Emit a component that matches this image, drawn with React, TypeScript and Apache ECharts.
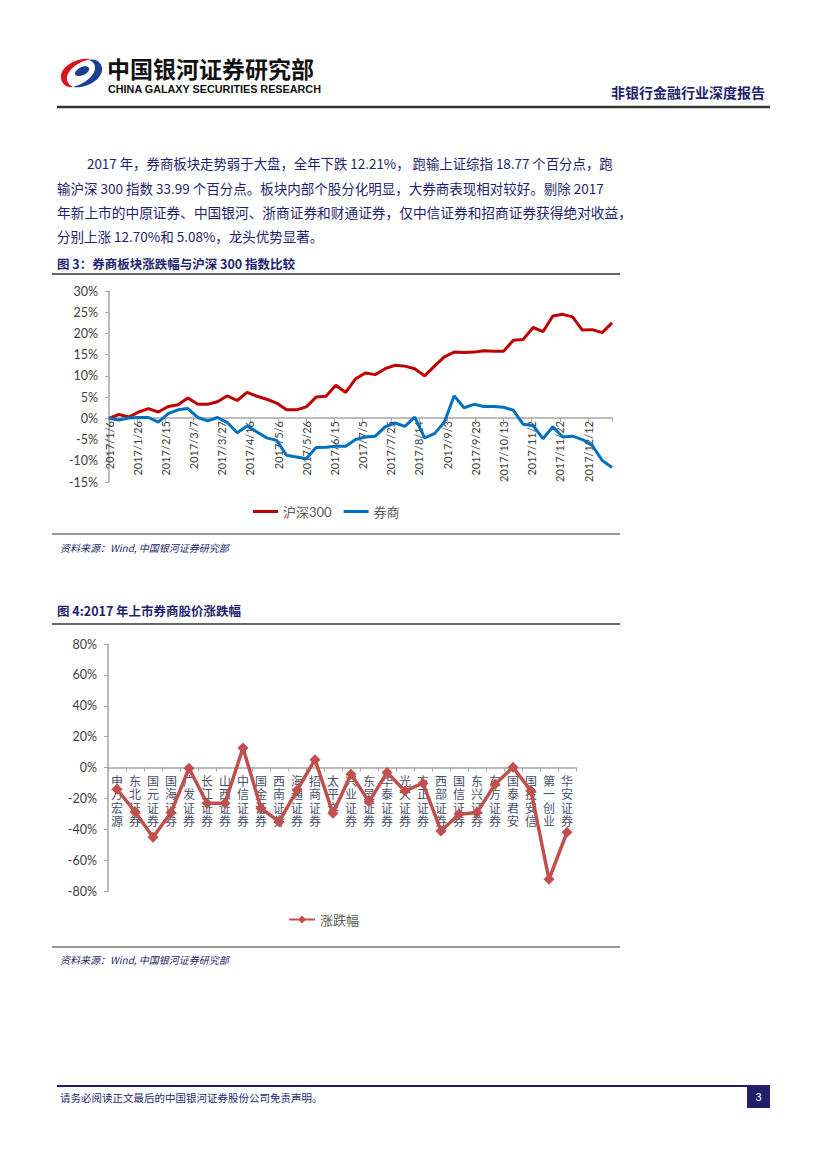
import React, { useEffect, useRef } from 'react';
import * as echarts from 'echarts';

// ---------- Figure 3 data (weekly, from 2017/1/6) ----------
const fig3TickLabels = [
  '2017/1/6', '2017/1/26', '2017/2/15', '2017/3/7', '2017/3/27', '2017/4/16',
  '2017/5/6', '2017/5/26', '2017/6/15', '2017/7/5', '2017/7/25', '2017/8/14',
  '2017/9/3', '2017/9/23', '2017/10/13', '2017/11/2', '2017/11/22', '2017/12/12',
];
const hs300 = [
  0, 0.9, 0.3, 1.5, 2.3, 1.5, 2.8, 3.2, 4.8, 3.3, 3.3, 3.9, 5.3, 4.2, 6.1, 5.2,
  4.5, 3.6, 2.0, 2.0, 2.7, 5.0, 5.2, 7.8, 6.1, 9.3, 10.7, 10.3, 11.7, 12.5, 12.3, 11.7,
  10.0, 12.3, 14.5, 15.6, 15.5, 15.6, 15.9, 15.8, 15.8, 18.4, 18.6, 21.4, 20.4, 24.1, 24.5, 23.9,
  20.8, 20.9, 20.2, 22.5,
];
const brokers = [
  0, -0.4, 0.1, 0.2, 0.2, -0.9, 1.1, 2.0, 2.3, 0.2, -0.6, 0.2, -1.0, -3.4, -1.8, -3.2,
  -4.6, -5.2, -8.7, -9.1, -9.5, -6.9, -6.8, -6.6, -6.6, -5.0, -4.4, -4.2, -2.0, -1.1, -1.9, 0.3,
  -4.6, -3.6, -0.9, 5.3, 2.5, 3.3, 2.8, 2.8, 2.6, 1.9, -1.4, -1.7, -4.8, -2.0, -4.4, -4.2,
  -5.0, -6.4, -9.9, -11.6,
];
// day offset of each weekly observation from 2017/1/6
const weekDays = hs300.map((_, i) => i * 7);

// ---------- Figure 4 data ----------
const fig4Names = [
  '申万宏源', '东北证券', '国元证券', '国海证券', '广发证券', '长江证券', '山西证券',
  '中信证券', '国金证券', '西南证券', '海通证券', '招商证券', '太平洋', '兴业证券',
  '东吴证券', '华泰证券', '光大证券', '方正证券', '西部证券', '国信证券', '东兴证券',
  '东方证券', '国泰君安', '国投安信', '第一创业', '华安证券',
];
const fig4Values = [
  -14.1, -28.6, -45.2, -29.2, -0.5, -23.2, -23.2, 12.7, -26.4, -35.1, -14.8, 5.08, -29.7,
  -4.4, -22.1, -3.3, -15.2, -10.2, -41.1, -30.3, -29.2, -10.9, 0.1, -15.2, -72.4, -41.9,
];

const bodyLines = [
  '2017 年，券商板块走势弱于大盘，全年下跌 12.21%， 跑输上证综指 18.77 个百分点，跑',
  '输沪深 300 指数 33.99 个百分点。板块内部个股分化明显，大券商表现相对较好。剔除 2017',
  '年新上市的中原证券、中国银河、浙商证券和财通证券，仅中信证券和招商证券获得绝对收益，',
  '分别上涨 12.70%和 5.08%，龙头优势显著。',
];

const NAVY = '#1f1f6e';
const CJK = '"Noto Sans CJK SC"';
const LAT = 'Lato, "Noto Sans CJK SC"';

echarts.graphic.registerShape(
  'logoRed',
  echarts.graphic.extendPath(
    'M31 1 C18 -1 3 7 1 17 C0 25 6 30 13 29 C7 26 5 20 9 14 C13 8 21 3 31 1 Z',
    {}
  )
);
echarts.graphic.registerShape(
  'logoBlue',
  echarts.graphic.extendPath(
    'M13 29 C25 31 40 23 42 13 C43 5 36 0 29 2 C35 4 37 10 33 16 C29 22 21 27 13 29 Z M16 13 C20 8 27 7 29 10 C30 14 24 18 19 18 C15 18 14 16 16 13 Z',
    {}
  )
);

function txt(text: string, x: number, y: number, font: string, fill: string, align = 'left') {
  return {
    type: 'text',
    x,
    y,
    silent: true,
    style: { text, font, fill, textAlign: align, textVerticalAlign: 'middle' },
  };
}
function hline(x1: number, x2: number, y: number, stroke: string, lineWidth: number) {
  return {
    type: 'line',
    silent: true,
    shape: { x1, y1: y, x2, y2: y },
    style: { stroke, lineWidth },
  };
}

export default function App() {
  const ref = useRef<HTMLDivElement>(null);
  useEffect(() => {
    if (!ref.current) return;
    const chart = echarts.init(ref.current, undefined, { renderer: 'svg' });

    const graphic: any[] = [
      { type: 'logoRed', x: 60, y: 58, scaleX: 1, scaleY: 1, style: { fill: '#d7141a' } },
      { type: 'logoBlue', x: 60, y: 58, scaleX: 1, scaleY: 1, style: { fill: '#1b3f95' } },
      txt('中国银河证券研究部', 107, 68, `bold 23px ${CJK}`, '#111111'),
      txt('CHINA GALAXY SECURITIES RESEARCH', 108, 89, 'bold 10.8px "Liberation Sans"', '#111111'),
      txt('非银行金融行业深度报告', 765, 92, `bold 14px ${CJK}`, NAVY, 'right'),
      hline(57, 770, 107, '#333333', 2.5),
      txt(bodyLines[0], 87, 163, `13.4px ${CJK}`, NAVY),
      txt(bodyLines[1], 57, 188, `13.5px ${CJK}`, NAVY),
      txt(bodyLines[2], 57, 212, `13.7px ${CJK}`, NAVY),
      txt(bodyLines[3], 57, 236, `13.5px ${CJK}`, NAVY),
      txt('图 3：券商板块涨跌幅与沪深 300 指数比较', 57, 263, `bold 12.5px ${CJK}`, NAVY),
      hline(52, 620, 274, '#333333', 1.5),
      hline(52, 620, 534, '#333333', 1.2),
      txt('资料来源：Wind, 中国银河证券研究部', 60, 547, `italic 10px ${CJK}`, NAVY),
      txt('图 4:2017 年上市券商股价涨跌幅', 57, 610, `bold 12.5px ${CJK}`, NAVY),
      hline(52, 620, 624, '#333333', 1.5),
      hline(52, 620, 947, '#333333', 1.2),
      txt('资料来源：Wind, 中国银河证券研究部', 60, 959, `italic 10px ${CJK}`, NAVY),
      hline(57, 770, 1086, '#1f1f5f', 2),
      txt('请务必阅读正文最后的中国银河证券股份公司免责声明。', 60, 1097, `10.5px ${CJK}`, NAVY),
      {
        type: 'rect',
        silent: true,
        shape: { x: 747, y: 1086, width: 23, height: 22 },
        style: { fill: '#1f1f6b' },
      },
      txt('3', 758.5, 1097, '11px "Liberation Sans"', '#ffffff', 'center'),
    ];

    chart.setOption({
      animation: false,
      backgroundColor: '#ffffff',
      textStyle: { fontFamily: LAT },
      graphic,
      grid: [
        { left: 109, top: 291, width: 503, height: 191 },
        { left: 108, top: 644, width: 468, height: 247 },
      ],
      legend: [
        {
          left: 248,
          top: 500,
          icon: 'rect',
          itemWidth: 25,
          itemHeight: 3,
          itemGap: 12,
          textStyle: { fontSize: 13, color: '#595959', fontFamily: LAT },
          data: ['沪深300', '券商'],
        },
        {
          left: 283,
          top: 908,
          itemWidth: 26,
          itemHeight: 10,
          textStyle: { fontSize: 13, color: '#595959', fontFamily: LAT },
          data: ['涨跌幅'],
        },
      ],
      xAxis: [
        {
          gridIndex: 0,
          type: 'value',
          min: 0,
          max: 357,
          interval: 20,
          position: 'bottom',
          offset: -64,
          splitLine: { show: false },
          axisLine: { onZero: false, lineStyle: { color: '#a6a6a6', width: 1.5 } },
          axisTick: { show: true, length: 4, lineStyle: { color: '#a6a6a6' } },
          axisLabel: {
            rotate: 90,
            margin: 3,
            fontSize: 11,
            color: '#404040',
            fontFamily: LAT,
            formatter: (v: number) => (v % 20 === 0 ? fig3TickLabels[v / 20] ?? '' : ''),
          },
        },
        {
          gridIndex: 1,
          type: 'category',
          data: fig4Names,
          position: 'bottom',
          offset: -123.5,
          axisLine: { onZero: false, lineStyle: { color: '#a6a6a6', width: 1.5 } },
          axisTick: { show: true, length: 4, lineStyle: { color: '#a6a6a6' } },
          axisLabel: {
            interval: 0,
            margin: 7,
            fontSize: 12,
            lineHeight: 13.5,
            color: '#4a4f6a',
            fontFamily: LAT,
            formatter: (s: string) => s.split('').join('\n'),
          },
        },
      ],
      yAxis: [
        {
          gridIndex: 0,
          type: 'value',
          min: -15,
          max: 30,
          interval: 5,
          splitLine: { show: false },
          axisLine: { show: true, lineStyle: { color: '#a6a6a6', width: 1.5 } },
          axisTick: { show: true, length: 4, lineStyle: { color: '#a6a6a6' } },
          axisLabel: { margin: 11, fontSize: 12.5, color: '#404040', fontFamily: LAT, formatter: '{value}%' },
        },
        {
          gridIndex: 1,
          type: 'value',
          min: -80,
          max: 80,
          interval: 20,
          splitLine: { show: false },
          axisLine: { show: true, lineStyle: { color: '#a6a6a6', width: 1.5 } },
          axisTick: { show: true, length: 4, lineStyle: { color: '#a6a6a6' } },
          axisLabel: { margin: 11, fontSize: 12.5, color: '#404040', fontFamily: LAT, formatter: '{value}%' },
        },
      ],
      series: [
        {
          name: '沪深300',
          type: 'line',
          xAxisIndex: 0,
          yAxisIndex: 0,
          data: weekDays.map((d, i) => [d, hs300[i]]),
          showSymbol: false,
          lineStyle: { color: '#c00000', width: 3 },
          itemStyle: { color: '#c00000' },
        },
        {
          name: '券商',
          type: 'line',
          xAxisIndex: 0,
          yAxisIndex: 0,
          data: weekDays.map((d, i) => [d, brokers[i]]),
          showSymbol: false,
          lineStyle: { color: '#0070c0', width: 3 },
          itemStyle: { color: '#0070c0' },
        },
        {
          name: '涨跌幅',
          type: 'line',
          xAxisIndex: 1,
          yAxisIndex: 1,
          data: fig4Values,
          symbol: 'diamond',
          symbolSize: 11,
          lineStyle: { color: '#c0504d', width: 3.5 },
          itemStyle: { color: '#c0504d' },
        },
      ],
    });
    return () => chart.dispose();
  }, []);
  return (
    <div
      ref={ref}
      style={{ position: 'absolute', left: 0, top: 0, width: 827, height: 1169 }}
    />
  );
}
